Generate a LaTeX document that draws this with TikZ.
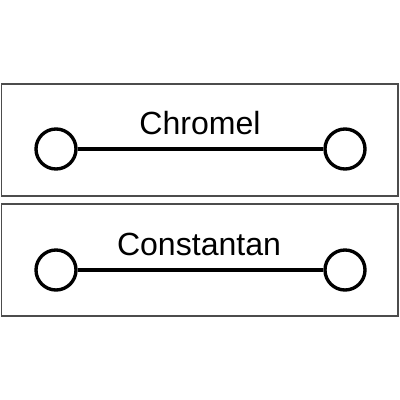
\documentclass[tikz,border=0pt]{standalone}
\usepackage{fontspec}
\setmainfont{Liberation Sans}
\begin{document}
\begin{tikzpicture}[x=0.025cm, y=-0.025cm,
  wirebox/.style={draw=black!70, line width=1.3pt},
  terminal/.style={circle, draw, line width=2.4pt, minimum size=1.0cm, inner sep=0pt},
  wire/.style={line width=2.4pt},
  alloy/.style={anchor=base, inner sep=0pt, font=\fontsize{22.8}{26}\selectfont}]
  \useasboundingbox (0,0) rectangle (400,400);
  % upper strip
  \draw[wirebox] (1.5,84) rectangle (398,196);
  \node[alloy] (chromel) at (200,135) {Chromel};
  \node[terminal] (c1) at (56,149) {};
  \node[terminal] (c2) at (345,149) {};
  \draw[wire] (c1)--(c2);
  % lower strip
  \draw[wirebox] (1.5,204) rectangle (398,316);
  \node[alloy] (constantan) at (199,255) {Constantan};
  \node[terminal] (k1) at (56,270) {};
  \node[terminal] (k2) at (345,270) {};
  \draw[wire] (k1)--(k2);
\end{tikzpicture}
\end{document}
